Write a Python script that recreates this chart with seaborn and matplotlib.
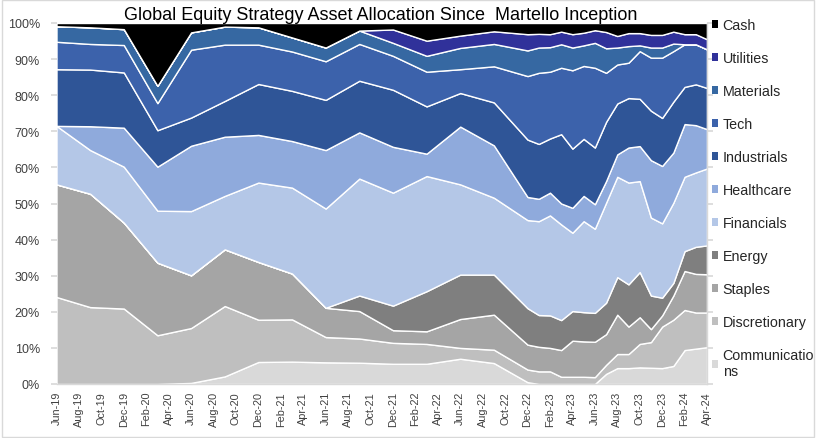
import pandas as pd
import numpy as np
import matplotlib
matplotlib.use('Agg')
import matplotlib.pyplot as plt
from matplotlib.patches import Patch, Rectangle
import seaborn as sns

# dados (% da carteira)
dates = ['Jun-19', 'Sep-19', 'Dec-19', 'Mar-20', 'Jun-20', 'Sep-20', 'Dec-20', 'Mar-21',
         'Jun-21', 'Sep-21', 'Dec-21', 'Mar-22', 'Jun-22', 'Sep-22', 'Dec-22',
         'Jan-23', 'Feb-23', 'Mar-23', 'Apr-23', 'May-23', 'Jun-23', 'Jul-23', 'Aug-23',
         'Sep-23', 'Oct-23', 'Nov-23', 'Dec-23', 'Jan-24', 'Feb-24', 'Mar-24', 'Apr-24']

communications = [0, 0, 0, 0, 0.3, 2.1, 6.1, 6.2, 6.0, 5.9, 5.6, 5.6, 7.0, 5.8, 0.5,
                  0, 0, 0, 0, 0, 0, 2.8, 4.4, 4.4, 4.6, 4.5, 4.4, 5.0, 9.4, 9.8, 10.2]
discretionary = [24.1, 21.3, 20.9, 13.5, 15.2, 19.5, 11.7, 11.7, 7.0, 6.7, 5.8, 5.5, 3.0, 3.7, 3.5,
                 3.5, 3.5, 2.0, 2.0, 2.0, 1.9, 2.5, 3.9, 3.9, 6.5, 7.1, 11.5, 12.8, 11.1, 10.0, 9.6]
staples = [31.2, 31.4, 23.8, 20.1, 14.6, 15.7, 16.0, 12.7, 8.1, 7.6, 3.5, 3.5, 8.0, 9.7, 6.9,
           6.8, 6.5, 7.4, 10.0, 9.8, 9.8, 8.5, 10.9, 7.6, 7.4, 3.6, 3.1, 6.7, 10.8, 10.7, 10.6]
energy = [0, 0, 0, 0, 0, 0, 0, 0, 0, 4.3, 6.8, 11.1, 12.3, 11.1, 10.1,
          8.8, 9.0, 8.3, 8.2, 8.1, 8.0, 8.7, 10.4, 11.7, 12.5, 9.3, 4.9, 3.5, 5.5, 7.5, 8.0]
financials = [16.2, 12.1, 15.5, 14.4, 17.8, 14.8, 22.0, 23.8, 27.5, 32.4, 31.3, 31.9, 25.0, 21.3, 24.4,
              26.0, 27.7, 26.5, 21.7, 25.2, 23.3, 27.7, 27.8, 28.2, 25.2, 21.6, 20.6, 22.2, 20.6, 20.6, 21.3]
healthcare = [0, 6.6, 10.8, 12.2, 18.1, 16.4, 13.2, 12.9, 16.2, 12.8, 12.7, 6.2, 16.0, 14.5, 6.4,
              6.2, 6.3, 5.8, 6.9, 7.0, 6.8, 6.0, 6.2, 9.7, 9.7, 15.9, 15.9, 13.9, 14.6, 13.1, 10.9]
industrials = [15.7, 15.7, 15.3, 10.1, 7.8, 9.9, 14.1, 13.9, 13.9, 14.3, 15.8, 13.1, 9.3, 11.9, 15.9,
               15.2, 15.0, 19.2, 16.4, 15.8, 15.7, 16.4, 14.1, 13.7, 13.1, 13.7, 13.3, 14.1, 10.3, 11.3, 11.4]
tech = [7.6, 7.1, 7.6, 7.5, 18.8, 15.6, 10.9, 10.9, 10.7, 10.2, 9.4, 9.6, 6.6, 10.0, 17.6,
        19.7, 18.5, 18.4, 21.7, 20.2, 22.1, 13.6, 10.8, 9.8, 13.2, 14.7, 16.7, 14.0, 11.8, 11.1, 10.7]
materials = [4.3, 4.6, 4.4, 4.8, 4.8, 5.0, 4.8, 3.9, 3.8, 3.7, 3.6, 4.4, 5.9, 6.2, 7.1,
             7.0, 6.8, 6.5, 6.3, 5.7, 6.9, 6.8, 4.7, 4.6, 1.6, 2.8, 2.8, 2.1, 0, 0, 0]
utilities = [0, 0, 0, 0, 0, 0, 0, 0, 0, 0, 3.7, 4.2, 3.4, 3.5, 4.5,
             3.8, 3.6, 3.5, 3.7, 3.5, 3.5, 4.5, 3.2, 3.6, 3.4, 3.5, 3.5, 3.3, 2.8, 2.8, 2.8]
cash = [0.9, 1.2, 1.7, 17.4, 2.6, 1.0, 1.2, 4.0, 6.8, 2.1, 1.8, 4.9, 3.5, 2.3, 3.1,
        3.0, 3.1, 2.4, 3.1, 2.7, 2.0, 2.5, 3.6, 2.8, 2.8, 3.3, 3.3, 2.4, 3.1, 3.1, 4.5]

labels = ['Communicatio\nns', 'Discretionary', 'Staples', 'Energy', 'Financials', 'Healthcare',
          'Industrials', 'Tech', 'Materials', 'Utilities', 'Cash']
colors = ['#d9d9d9', '#bfbfbf', '#a5a5a5', '#7f7f7f', '#b4c7e7', '#8faadc',
          '#2f5597', '#3c62ab', '#3668a2', '#30319a', '#000000']

sns.set_theme(style='white')
plt.rcParams['font.family'] = ['Liberation Sans', 'DejaVu Sans']

# posição no eixo: meses desde Jun-19
d = pd.to_datetime(dates, format='%b-%y')
x = (d.year - 2019) * 12 + d.month - 6

fig = plt.figure(figsize=(8.16, 4.39), dpi=100)
ax = fig.add_axes([56.5 / 816, 1 - 385 / 439, (707 - 56.5) / 816, (385 - 24) / 439])

series = [communications, discretionary, staples, energy, financials, healthcare,
          industrials, tech, materials, utilities, cash]
ax.stackplot(x, series, colors=colors, edgecolor='white', linewidth=1.0)

ax.set_xlim(0, 58)
ax.set_ylim(0, 100)
ax.set_yticks(np.arange(0, 101, 10))
ax.set_yticklabels([f'{v}%' for v in range(0, 101, 10)], fontsize=9, color='#404040')
tick_pos = np.arange(0, 59, 2)
tick_lab = pd.date_range('2019-06-01', '2024-04-01', freq='2MS').strftime('%b-%y')
ax.set_xticks(tick_pos)
ax.set_xticklabels(tick_lab, rotation=90, fontsize=7.8, color='#404040')
ax.tick_params(axis='x', length=0, pad=5)
ax.tick_params(axis='y', left=True, right=True, labelright=False, length=4,
               color='#d9d9d9', direction='out', pad=8)

for s in ['top', 'left']:
    ax.spines[s].set_visible(False)
for s in ['bottom', 'right']:
    ax.spines[s].set_color('#d9d9d9')
    ax.spines[s].set_linewidth(1)

handles = [Patch(facecolor=c, edgecolor='none') for c in colors][::-1]
ax.legend(handles, labels[::-1], loc='upper left', bbox_to_anchor=(712 / 816, 1 - 19 / 439),
          bbox_transform=fig.transFigure, frameon=False, fontsize=10.3,
          handlelength=0.45, handleheight=0.45, handletextpad=0.3,
          labelspacing=1.33, borderpad=0, borderaxespad=0)

fig.text(0.467, 1 - 15 / 439, 'Global Equity Strategy Asset Allocation Since  Martello Inception',
         ha='center', va='center', fontsize=13, color='black')

fig.patches.append(Rectangle((0.003, 0.003), 0.994, 0.994, transform=fig.transFigure,
                             fill=False, edgecolor='#d9d9d9', linewidth=1))

fig.savefig('out.png', dpi=100)
